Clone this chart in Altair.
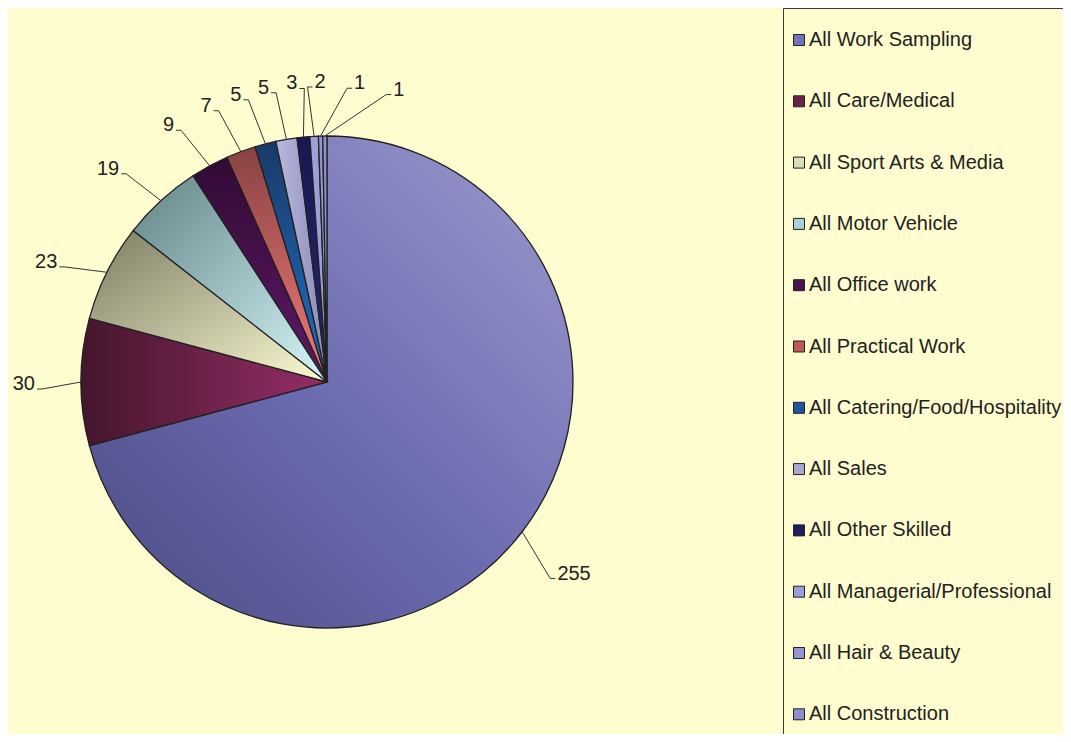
import math
import altair as alt
import pandas as pd

# ---- data ----
categories = [
    "All Work Sampling", "All Care/Medical", "All Sport Arts & Media",
    "All Motor Vehicle", "All Office work", "All Practical Work",
    "All Catering/Food/Hospitality", "All Sales", "All Other Skilled",
    "All Managerial/Professional", "All Hair & Beauty", "All Construction",
]
values = [255, 30, 23, 19, 9, 7, 5, 5, 3, 2, 1, 1]

# ---- styles ----
flat_colors = ["#7474b8", "#6e2148", "#dcdcb4", "#a6d2d6", "#4a1050", "#c05858",
               "#1e56a0", "#a8a8d2", "#1c1c5e", "#9c9cd6", "#9494d0", "#8e8eca"]
gradients = {
    "All Work Sampling": ((0, 1, 1, 0), [(0, "#4b4b82"), (0.45, "#6a6ab0"), (1, "#9c9acd")]),
    "All Care/Medical": ((0, 0, 1, 0), [(0, "#44152c"), (1, "#962e67")]),
    "All Sport Arts & Media": ((0, 0, 1, 1), [(0, "#7c7c64"), (1, "#fbfbd2")]),
    "All Motor Vehicle": ((0, 0, 1, 1), [(0, "#628486"), (1, "#d6f6fa")]),
    "All Office work": ((0, 0, 0, 1), [(0, "#320a34"), (1, "#5e1a66")]),
    "All Practical Work": ((0, 0, 0, 1), [(0, "#884242"), (1, "#f47a7a")]),
    "All Catering/Food/Hospitality": ((0, 0, 0, 1), [(0, "#1a3a68"), (1, "#1e70c6")]),
    "All Sales": ((0, 0, 1, 0), [(0, "#b8b8de"), (1, "#8a8ab8")]),
    "All Other Skilled": ((0, 0, 0, 1), [(0, "#181852"), (1, "#262672")]),
    "All Managerial/Professional": ((0, 0, 1, 0), [(0, "#a2a2da"), (1, "#9a9ad4")]),
    "All Hair & Beauty": ((0, 0, 1, 0), [(0, "#9696d2"), (1, "#9292ce")]),
    "All Construction": ((0, 0, 1, 0), [(0, "#9090cc"), (1, "#8c8cc8")]),
}
BG = "#FFFCD0"
FONT = "Liberation Sans"
W, H = 1055, 726
CX, CY, R = 319, 374, 246

# ---- derived geometry (angles from the values) ----
total = sum(values)
start, end = [], []
acc = 0
for v in values:
    start.append(acc / total * 360)
    acc += v
    end.append(acc / total * 360)
mid = [(s + e) / 2 for s, e in zip(start, end)]

# label angles: slight counter-clockwise lean in the upper-left quadrant,
# then push crowded labels forward so they do not collide
pref = [m - 3 if 280 < m < 360 else m for m in mid]
ang = []
for i, p in enumerate(pref):
    if i == 0:
        ang.append(p)
    else:
        g = 7.5 if ang[-1] >= 358 else 5.4
        ang.append(max(p, ang[-1] + g))

rows = []
for i, (c, v) in enumerate(zip(categories, values)):
    a = math.radians(ang[i])
    m = math.radians(mid[i])
    halfw = 5.6 * len(str(v))
    rl = 292 + halfw * abs(math.sin(a)) + 10 * abs(math.cos(a))
    lx = CX + rl * math.sin(a)
    ly = CY - rl * math.cos(a) + 2
    ex = CX + R * math.sin(m)
    ey = CY - R * math.cos(m)
    if lx > ex:
        near = lx - halfw - 2
        far = near - 5
    else:
        near = lx + halfw + 2
        far = near + 5
    rows.append(dict(category=c, value=v, idx=i, start=start[i], end=end[i],
                     label=str(v), lx=lx, ly=ly, ex=ex, ey=ey,
                     near=near, far=far, ty=ly + 5))
df = pd.DataFrame(rows)

theta_scale = alt.Scale(domain=[0, 360], range=[0, 2 * math.pi])
base = alt.Chart(df)

legend = alt.Legend(
    title=None, orient="none", legendX=781, legendY=22, padding=0,
    symbolType="square", symbolSize=121, symbolStrokeColor="#222222",
    symbolStrokeWidth=1, labelFont=FONT, labelFontSize=20, labelColor="#222222",
    labelOffset=0, rowPadding=41.3, labelLimit=400,
)

pie_base = base.mark_arc(radius=R).encode(
    x=alt.value(CX), y=alt.value(CY),
    theta=alt.Theta("start:Q", scale=theta_scale, stack=False),
    theta2="end:Q",
    color=alt.Color("category:N", scale=alt.Scale(domain=categories, range=flat_colors),
                    legend=legend),
)

grad_layers = []
for c in categories:
    (x1, y1, x2, y2), stops = gradients[c]
    fill = {"gradient": "linear", "x1": x1, "y1": y1, "x2": x2, "y2": y2,
            "stops": [{"offset": o, "color": col} for o, col in stops]}
    grad_layers.append(
        base.transform_filter(alt.datum.category == c)
        .mark_arc(radius=R, fill=fill, stroke="#222222", strokeWidth=1.3)
        .encode(x=alt.value(CX), y=alt.value(CY),
                theta=alt.Theta("start:Q", scale=theta_scale, stack=False),
                theta2="end:Q")
    )

leaders = base.mark_rule(color="#333333", strokeWidth=1).encode(
    x=alt.X("ex:Q", scale=None, axis=None), y=alt.Y("ey:Q", scale=None, axis=None),
    x2="far:Q", y2="ty:Q",
)
tails = base.mark_rule(color="#333333", strokeWidth=1).encode(
    x=alt.X("far:Q", scale=None, axis=None), x2="near:Q",
    y=alt.Y("ty:Q", scale=None, axis=None),
)
labels = base.mark_text(font=FONT, fontSize=20, color="#222222", align="center",
                        baseline="middle").encode(
    x=alt.X("lx:Q", scale=None, axis=None), y=alt.Y("ly:Q", scale=None, axis=None),
    text="label:N",
)

legend_box = alt.Chart(alt.Data(values=[{"k": 1}])).mark_rect(
    fillOpacity=0, stroke="#3a3a3a", strokeWidth=1
).encode(x=alt.value(775.5), x2=alt.value(1090), y=alt.value(0.5), y2=alt.value(760))

chart = alt.layer(pie_base, *grad_layers, leaders, tails, labels, legend_box).properties(
    width=W, height=H, background=BG, padding=0,
    autosize=alt.AutoSizeParams(type="none"),
).configure_view(stroke="transparent")

chart.save("out.html", embed_options={"renderer": "svg", "actions": False})
